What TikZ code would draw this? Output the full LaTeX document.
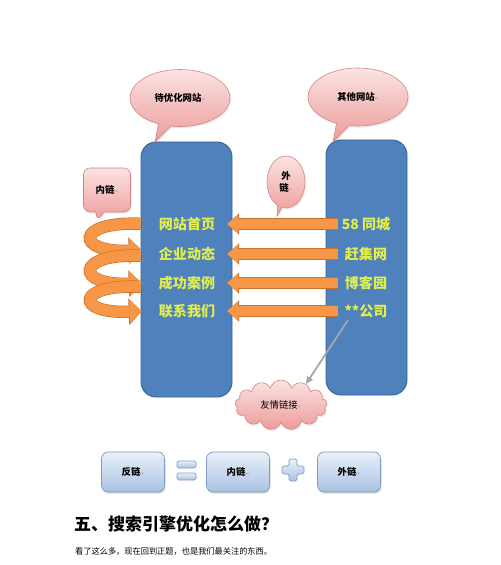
\documentclass[tikz,border=0pt]{standalone}
\usepackage{fontspec}
\usepackage{xcolor}
\usepackage{tikz}
\usetikzlibrary{positioning,arrows.meta,shapes.callouts,shapes.symbols,shadows}
\newfontfamily\cjk{Noto Sans CJK SC}
\newfontfamily\symf{DejaVu Sans}
\definecolor{ColBlue}{HTML}{4F81BD}
\definecolor{ColEdge}{HTML}{3A6496}
\definecolor{LinkYel}{HTML}{E2EE4C}
\definecolor{LinkOr}{HTML}{F79646}
\definecolor{OrEdge}{HTML}{C8722E}
\definecolor{PinkTop}{HTML}{FBE3E2}
\definecolor{PinkBot}{HTML}{EC9C9A}
\definecolor{PinkEdge}{HTML}{D08584}
\definecolor{BoxTop}{HTML}{EAF0F9}
\definecolor{BoxBot}{HTML}{A9C2E2}
\definecolor{BoxEdge}{HTML}{7D9BC6}
\definecolor{LinkGrey}{HTML}{A6A6A6}
\newcommand{\retmark}{{\symf\fontsize{4}{4}\selectfont\color{black!35}↵}}

\tikzset{
  column/.style={rounded corners=0.45cm, fill=ColBlue, draw=ColEdge, line width=0.8pt},
  pagetext/.style={font=\cjk\bfseries\fontsize{12}{14}\selectfont, text=LinkYel, inner sep=0pt, minimum height=0.5cm},
  outlink/.style={draw=LinkOr, line width=0.3cm, -{Triangle[length=0.33cm,width=0.56cm]},
    preaction={draw=OrEdge, line width=0.34cm, -{Triangle[length=0.36cm,width=0.62cm]}}},
  inlink/.style={draw=LinkOr, line width=0.33cm, -{Triangle[length=0.36cm,width=0.72cm]},
    shorten <=0.18cm, shorten >=0.15cm,
    preaction={draw=OrEdge, line width=0.37cm, -{Triangle[length=0.39cm,width=0.78cm]},
      shorten <=0.18cm, shorten >=0.15cm}},
  bubble/.style={top color=PinkTop, bottom color=PinkBot, draw=PinkEdge, line width=0.5pt,
    inner sep=0pt, font=\cjk\bfseries\fontsize{8}{10}\selectfont, text=black,
    drop shadow={opacity=0.15,shadow xshift=0.04cm,shadow yshift=-0.05cm}},
  greyarrow/.style={draw=LinkGrey, line width=1.5pt, -{Triangle[length=0.22cm,width=0.2cm]}},
  linkbox/.style={rounded corners=0.2cm, top color=BoxTop, bottom color=BoxBot, draw=BoxEdge,
    line width=0.6pt, minimum width=1.89cm, minimum height=1.2cm,
    font=\cjk\bfseries\fontsize{8}{10}\selectfont,
    drop shadow={opacity=0.3,shadow xshift=0.03cm,shadow yshift=-0.05cm}},
  sign/.style={rounded corners=0.05cm, top color=BoxTop, bottom color=BoxBot, draw=BoxEdge, line width=0.6pt}
}

\begin{document}
\begin{tikzpicture}[x=0.03cm,y=-0.03cm]
\useasboundingbox (0,0) rectangle (500,565);

% the two sites
\node[column, minimum width=2.73cm, minimum height=7.65cm] (site) at (186.5,269.5) {};
\node[column, minimum width=2.43cm, minimum height=7.65cm] (other) at (366.5,267.5) {};

% pages of our site
\node[pagetext, minimum width=2.4cm] (p1) at (187,224) {网站首页};
\node[pagetext, minimum width=2.4cm] (p2) at (187,254) {企业动态};
\node[pagetext, minimum width=2.4cm] (p3) at (187,283) {成功案例};
\node[pagetext, minimum width=2.4cm] (p4) at (187,311) {联系我们};

% outside sites
\node[pagetext, minimum width=1.68cm] (s1) at (366,224) {58 同城};
\node[pagetext, minimum width=1.68cm] (s2) at (366,254) {赶集网};
\node[pagetext, minimum width=1.68cm] (s3) at (366,283) {博客园};
\node[pagetext, minimum width=1.68cm] (s4) at (366,311) {**公司};

% outside links
\foreach \i in {1,...,4}
  \draw[outlink] (s\i) -- (p\i);

% inside links
\draw[inlink] (p1.west) .. controls +(-72,-3) and +(-72,3) .. ([yshift=0.12cm]p2.west);
\draw[inlink] ([yshift=-0.06cm]p2.west) .. controls +(-72,-3) and +(-72,3) .. (p3.west);
\draw[inlink] ([yshift=-0.12cm]p3.west) .. controls +(-72,-3) and +(-72,3) .. (p4.west);

% callouts
\node[bubble, ellipse callout, minimum width=3cm, minimum height=1.71cm,
  callout absolute pointer={(155,142)}] (waitb) at (180,98) {待优化网站\retmark};
\node[bubble, ellipse callout, minimum width=3cm, minimum height=1.74cm,
  callout absolute pointer={(333,142)}] (otherb) at (358,97) {其他网站\retmark};
\node[bubble, ellipse callout, minimum width=1.14cm, minimum height=1.56cm, align=center,
  callout absolute pointer={(277,216)}] (outb) at (286,182) {外\\链\retmark};
\node[bubble, rectangle callout, rounded corners=0.2cm, minimum width=1.41cm, minimum height=1.32cm,
  callout absolute pointer={(97,221)}] (inb) at (107,190) {内链\retmark};

% friendly links
\node[bubble, cloud, cloud puffs=13, aspect=1.9, minimum width=2.76cm, minimum height=1.5cm,
  font=\cjk\fontsize{8}{10}\selectfont] (yq) at (281,405) {友情链接\retmark};
\coordinate (gtail) at (348,320);
\draw[greyarrow] (gtail) -- (yq.40);

% backlinks = inside + outside
\node[linkbox] (fl) at (133,472) {反链\retmark};
\node[linkbox] (nl) at (238,472) {内链\retmark};
\node[linkbox] (wl) at (349,472) {外链\retmark};
\draw[sign] (177,461) rectangle (196,468);
\draw[sign] (177,473) rectangle (196,480);
\draw[sign] (289,459) -- (297,459) -- (297,466) -- (304,466) -- (304,474) -- (297,474)
  -- (297,481) -- (289,481) -- (289,474) -- (282,474) -- (282,466) -- (289,466) -- cycle;

% text below
\node[anchor=west, inner sep=0pt, font=\cjk\bfseries\fontsize{14.5}{16}\selectfont] (head) at (74,524)
  {五、搜索引擎优化怎么做？};
\node[anchor=west, inner sep=0pt, font=\cjk\fontsize{7}{8}\selectfont] (intro) at (75,551)
  {看了这么多，现在回到正题，也是我们最关注的东西。};
\end{tikzpicture}
\end{document}
